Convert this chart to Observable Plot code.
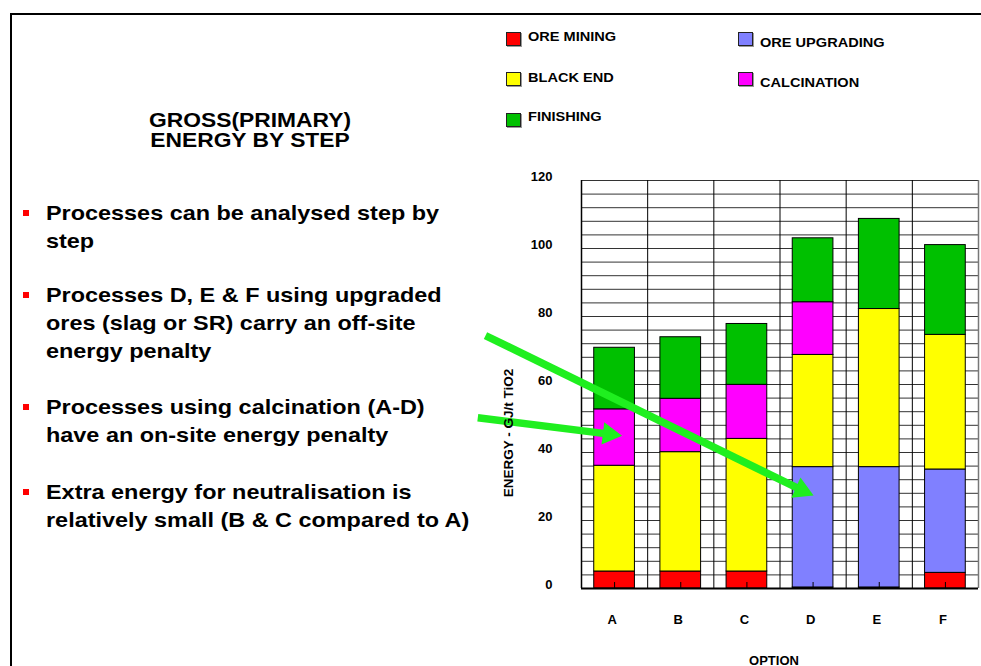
<!DOCTYPE html>
<html><head><meta charset="utf-8">
<script src="https://cdn.jsdelivr.net/npm/d3@7"></script>
<script src="https://cdn.jsdelivr.net/npm/@observablehq/plot@0.6"></script>
<style>
html,body{margin:0;padding:0;background:#fff}
body{font-family:"Liberation Sans",Arial,Helvetica,sans-serif;font-weight:bold;color:#000}
#page{position:relative;width:981px;height:666px;overflow:hidden;background:#fff}
#page svg{position:absolute;left:0;top:0}
.abs{position:absolute;white-space:nowrap}
.frame{position:absolute;left:10px;top:13px;width:980px;height:660px;border-left:2px solid #000;border-top:2px solid #000}
.title{left:0;width:500px;text-align:center;font-size:19.5px;line-height:20px;transform:scaleX(1.17);transform-origin:250px 0}
.bullet{left:46px;font-size:21px;line-height:28px;transform:scaleX(1.115);transform-origin:0 0}
.sq{position:absolute;left:23px;width:6px;height:6px;background:#f00}
.sw{position:absolute;width:13px;height:12px;border:1px solid #222;box-shadow:1px 1px 0 #999}
.lg{font-size:13px;line-height:13px;transform:scaleX(1.12);transform-origin:0 0}
.ytitle{font-size:13.5px;line-height:14px;transform:translate(-50%,-50%) rotate(-90deg)}
.xtitle{font-size:13px;line-height:13px;transform:translate(-50%,-50%)}
#page svg text{font-weight:bold}
</style></head>
<body><div id="page"></div>
<script>
// ---- data ----
const categories = ["A", "B", "C", "D", "E", "F"];
const seriesNames = ["ORE MINING", "ORE UPGRADING", "BLACK END", "CALCINATION", "FINISHING"];
const seriesColors = ["#FF0000", "#8080FF", "#FFFF00", "#FF00FF", "#00C000"];
const oreMining    = [5.0, 5.0, 5.0, 0.3, 0.3, 4.6];
const oreUpgrading = [0, 0, 0, 35.4, 35.4, 30.4];
const blackEnd     = [31.1, 35.1, 39.0, 33.0, 46.5, 39.6];
const calcination  = [16.6, 15.7, 15.9, 15.5, 0, 0];
const finishing    = [18.1, 18.1, 17.9, 18.8, 26.5, 26.4];
const yTickLabels = [0, 20, 40, 60, 80, 100, 120];
const yGridStep = 4;
const yTitle = "ENERGY - GJ/t TiO2";
const xTitle = "OPTION";
const titleLines = ["GROSS(PRIMARY)", "ENERGY BY STEP"];
const bullets = [
  ["Processes can be analysed step by", "step"],
  ["Processes D, E & F using upgraded", "ores (slag or SR) carry an off-site", "energy penalty"],
  ["Processes using calcination (A-D)", "have an on-site energy penalty"],
  ["Extra energy for neutralisation is", "relatively small (B & C compared to A)"]
];
// annotation arrows (chart units: x = option index, y = energy)
const arrowStart = [[-1.451, 74.4], [-1.567, 50.2]];
const arrowHead  = [[3.33, 28.9], [0.42, 45.4]];
const arrowAngle = [114, 97];

// ---- build stacked rows ----
const seriesValues = [oreMining, oreUpgrading, blackEnd, calcination, finishing];
const rows = [];
categories.forEach((c, i) => {
  let cum = 0;
  seriesValues.forEach((vals, s) => {
    const v = vals[i];
    if (v > 0) rows.push({i, cat: c, series: seriesNames[s], y1: cum, y2: cum + v});
    cum += v;
  });
});
const xCenters = categories.map((c, i) => i + 0.5);
const arrows = arrowStart.map((s, k) => ({x1: s[0], y1: s[1], x2: arrowHead[k][0], y2: arrowHead[k][1], rot: arrowAngle[k]}));
const green = "#1FEF1F";

const chart = Plot.plot({
  width: 981, height: 666,
  marginLeft: 581, marginRight: 3, marginTop: 180, marginBottom: 78,
  x: {domain: [0, categories.length], axis: null},
  y: {domain: [0, 120], axis: null},
  color: {domain: seriesNames, range: seriesColors},
  style: {background: "transparent", overflow: "visible", fontFamily: "Liberation Sans, Arial, sans-serif"},
  marks: [
    Plot.ruleY(d3.range(0, 121, yGridStep), {stroke: "#333", strokeWidth: 1}),
    Plot.ruleX(d3.range(0, categories.length + 1), {stroke: "#000", strokeWidth: 1}),
    Plot.ruleX([categories.length], {stroke: "#777", strokeWidth: 1.5}),
    Plot.rectY(rows, {x1: d => d.i + 0.1925, x2: d => d.i + 0.8075, y1: "y1", y2: "y2", fill: "series", stroke: "#000", strokeWidth: 1}),
    Plot.ruleY([0], {stroke: "#000", strokeWidth: 2}),
    Plot.ruleX([0], {stroke: "#000", strokeWidth: 1.5}),
    Plot.axisX({ticks: xCenters, tickSize: -6, tickFormat: () => "", label: null}),
    Plot.text(yTickLabels, {x: 0, y: d => d, text: d => String(d), textAnchor: "end", dx: -29, dy: -4, fontSize: 13, fontWeight: "bold", fill: "#000"}),
    Plot.text(xCenters, {x: d => d, y: 0, text: d => categories[Math.floor(d)], dx: -2.5, dy: 31, fontSize: 13, fontWeight: "bold", fill: "#000"}),
    Plot.link(arrows, {x1: "x1", y1: "y1", x2: "x2", y2: "y2", stroke: green, strokeWidth: 7.5}),
    Plot.dot(arrows, {x: "x2", y: "y2", symbol: "triangle", r: 8.3, fill: green, stroke: "none", rotate: "rot"})
  ]
});

const page = document.getElementById("page");
page.appendChild(chart);

function addDiv(cls, text, css) {
  const d = document.createElement("div");
  d.className = "abs " + cls;
  if (text != null) d.textContent = text;
  Object.assign(d.style, css || {});
  page.appendChild(d);
  return d;
}
const fr = document.createElement("div"); fr.className = "frame"; page.appendChild(fr);

// title
titleLines.forEach((t, k) => addDiv("title", t, {top: (110 + k * 20) + "px"}));
// bullets
const bulletTops = [199, 281, 393, 478];
bullets.forEach((lines, k) => {
  addDiv("bullet", lines.join("\n"), {top: bulletTops[k] + "px", whiteSpace: "pre"});
  const s = document.createElement("div"); s.className = "sq"; s.style.top = (bulletTops[k] + 11) + "px"; page.appendChild(s);
});
// legend
const legendPos = {"ORE MINING": [506, 32, 36], "BLACK END": [506, 72, 77], "FINISHING": [506, 112.5, 116.5],
                   "ORE UPGRADING": [738, 32, 42], "CALCINATION": [738, 72, 82]};
seriesNames.forEach((n, s) => {
  const p = legendPos[n];
  const sw = document.createElement("div"); sw.className = "sw";
  Object.assign(sw.style, {left: p[0] + "px", top: p[1] + "px", background: seriesColors[s]});
  page.appendChild(sw);
  addDiv("lg", n, {left: (p[0] + 22) + "px", top: (p[2] - 6.5) + "px"});
});
// axis titles
addDiv("ytitle", yTitle, {left: "509px", top: "433px"});
addDiv("xtitle", xTitle, {left: "774px", top: "660px"});
</script>
</body></html>
